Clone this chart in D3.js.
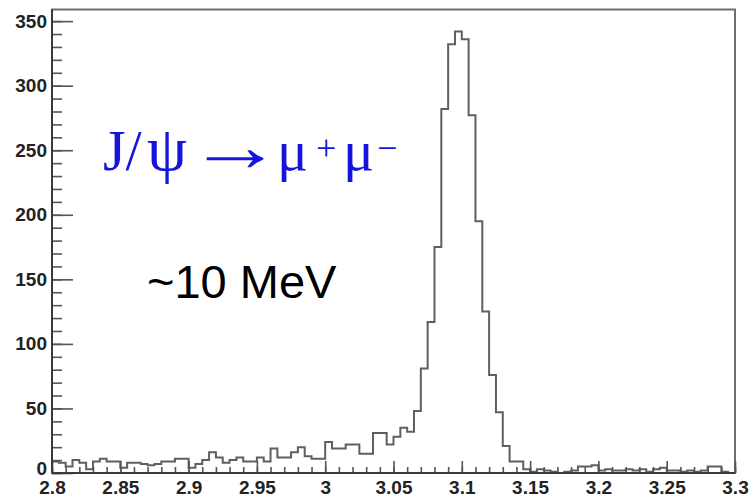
<!DOCTYPE html>
<html>
<head>
<meta charset="utf-8">
<script src="https://cdn.jsdelivr.net/npm/d3@7"></script>
<style>
  html, body { margin: 0; padding: 0; background: #fff; }
  svg { display: block; }
</style>
</head>
<body>
<svg id="chart" width="752" height="500"></svg>
<script>
// Dimuon invariant mass histogram, 100 bins of 5 MeV between 2.8 and 3.3 GeV
const binLow = 2.8;
const binHigh = 3.3;
const binCounts = [
   9,  8,  5, 10,  8,  3,  9, 11,  9,  9,
   4,  8,  8,  7,  6,  7,  9,  9, 11, 11,
   4,  7, 10, 16, 12,  8, 10, 12,  9,  9,
  12,  9, 19, 12, 12, 16, 20, 13, 11, 11,
  24, 19, 19, 22, 22, 15, 15, 31, 31, 22,
  28, 35, 32, 48, 81,117,175,282,332,342,
 336,277,195,125, 76, 47, 21,  9,  9,  3,
   1,  3,  2,  1,  0,  1,  2,  5,  5,  6,
   2,  3,  2,  2,  3,  2,  3,  1,  3,  4,
   2,  2,  1,  2,  1,  2,  5,  5,  1,  0
];
const yMax = 359;
const xMajorTicks = [2.8, 2.85, 2.9, 2.95, 3.0, 3.05, 3.1, 3.15, 3.2, 3.25, 3.3];
const xTickLabels = ["2.8", "2.85", "2.9", "2.95", "3", "3.05", "3.1", "3.15", "3.2", "3.25", "3.3"];
const yMajorTicks = [0, 50, 100, 150, 200, 250, 300, 350];
const yTickLabels = ["0", "50", "100", "150", "200", "250", "300", "350"];

const svg = d3.select("#chart");
const frame = { left: 52, right: 735, top: 9.5, bottom: 473 };

const x = d3.scaleLinear().domain([binLow, binHigh]).range([frame.left, frame.right]);
const y = d3.scaleLinear().domain([0, yMax]).range([frame.bottom, frame.top]);

const nBins = binCounts.length;
const binWidth = (binHigh - binLow) / nBins;

// Frame
svg.append("rect")
  .attr("x", frame.left).attr("y", frame.top)
  .attr("width", frame.right - frame.left).attr("height", frame.bottom - frame.top)
  .attr("fill", "none").attr("stroke", "#6e6e6e").attr("stroke-width", 2);

// Step outline of the histogram
let path = d3.path();
path.moveTo(x(binLow), y(0));
binCounts.forEach((c, i) => {
  path.lineTo(x(binLow + i * binWidth), y(c));
  path.lineTo(x(binLow + (i + 1) * binWidth), y(c));
});
path.lineTo(x(binHigh), y(0));
svg.append("path")
  .attr("d", path.toString())
  .attr("fill", "none")
  .attr("stroke", "#5f5f5f")
  .attr("stroke-width", 2);

// X axis: major ticks with labels, minor ticks every 0.01
const xMinor = d3.range(0, 51).map(i => +(binLow + i * 0.01).toFixed(2));
const xAxisMinor = d3.axisBottom(x).tickValues(xMinor).tickFormat("").tickSizeInner(-6).tickSizeOuter(0);
const xAxisMajor = d3.axisBottom(x).tickValues(xMajorTicks)
  .tickFormat((d, i) => xTickLabels[i]).tickSizeInner(-12).tickSizeOuter(0).tickPadding(8);

const gxm = svg.append("g").attr("transform", `translate(0,${frame.bottom})`).call(xAxisMinor);
const gx = svg.append("g").attr("transform", `translate(0,${frame.bottom})`).call(xAxisMajor);

// Y axis: major every 50, minor every 10
const yMinor = d3.range(0, 360, 10);
const yAxisMinor = d3.axisLeft(y).tickValues(yMinor).tickFormat("").tickSizeInner(-10).tickSizeOuter(0);
const yAxisMajor = d3.axisLeft(y).tickValues(yMajorTicks)
  .tickFormat((d, i) => yTickLabels[i]).tickSizeInner(-21).tickSizeOuter(0).tickPadding(5);

const gym = svg.append("g").attr("transform", `translate(${frame.left},0)`).call(yAxisMinor);
const gy = svg.append("g").attr("transform", `translate(${frame.left},0)`).call(yAxisMajor);

[gxm, gx, gym, gy].forEach(g => {
  g.select(".domain").remove();
  g.selectAll(".tick line").attr("stroke", "#555").attr("stroke-width", 1.6);
  g.selectAll("text")
    .attr("fill", "#222")
    .attr("font-family", "Liberation Sans, Arial, sans-serif")
    .attr("font-weight", "bold")
    .attr("font-size", 19);
});
// the zero label sits slightly above its tick so it clears the first x label
gy.selectAll(".tick").filter(d => d === 0).select("text").attr("dy", "0.1em");

// Axis lines drawn on top
svg.append("line").attr("x1", frame.left).attr("x2", frame.right)
  .attr("y1", frame.bottom).attr("y2", frame.bottom)
  .attr("stroke", "#3a3a3a").attr("stroke-width", 2);
svg.append("line").attr("x1", frame.left).attr("x2", frame.left)
  .attr("y1", frame.top).attr("y2", frame.bottom)
  .attr("stroke", "#3a3a3a").attr("stroke-width", 2);

// Decay annotation
const blue = "#1414dc";
const serif = "Liberation Serif, Times New Roman, serif";
const ann = svg.append("g").attr("fill", blue).attr("font-family", serif);
ann.append("text").attr("x", 103).attr("y", 170).attr("font-size", 58).text("J/");
ann.append("text").attr("x", 147).attr("y", 170).attr("font-size", 64).text("ψ");
// a thin, wide arrow
ann.append("text")
  .attr("transform", "translate(187,171) scale(1.45,1.1)")
  .attr("font-size", 66).text("→");
ann.append("text").attr("x", 277).attr("y", 170).attr("font-size", 58).text("μ");
ann.append("text").attr("x", 316).attr("y", 160).attr("font-size", 36).text("+");
ann.append("text").attr("x", 343).attr("y", 170).attr("font-size", 58).text("μ");
ann.append("text").attr("x", 377).attr("y", 160).attr("font-size", 36).text("−");

// Resolution note
svg.append("text")
  .attr("x", 147).attr("y", 298)
  .attr("font-family", "Liberation Sans, Arial, sans-serif")
  .attr("font-size", 47)
  .attr("fill", "#000")
  .text("~10 MeV");
</script>
</body>
</html>
